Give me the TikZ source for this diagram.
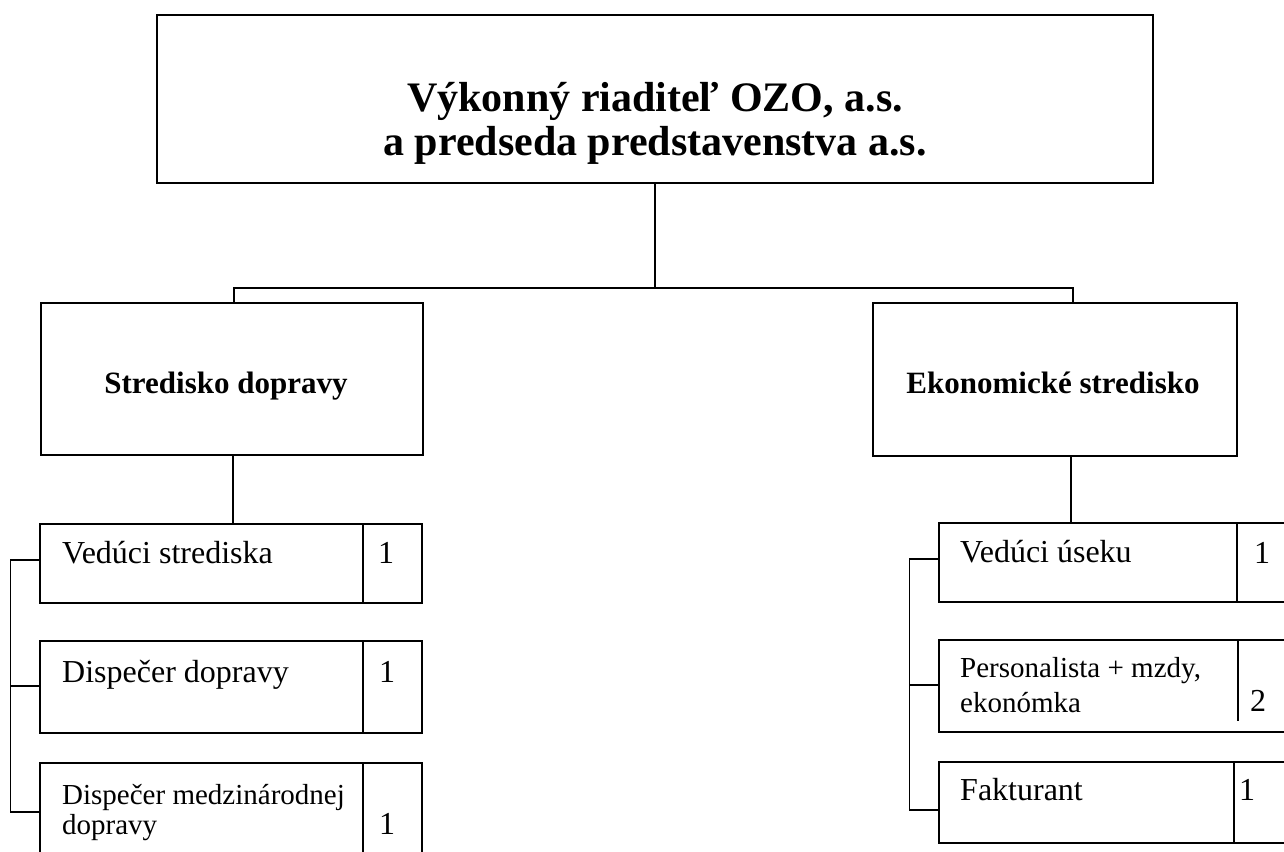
\documentclass[tikz,border=0pt]{standalone}
\usepackage{fontspec}
\setmainfont{Liberation Serif}

\tikzset{
  orgbox/.style={draw, line width=1.5pt, inner sep=0pt},
  link/.style={line width=1.5pt},
  headtext/.style={font=\fontsize{42}{44}\selectfont\bfseries, align=center, inner sep=0pt},
  unittext/.style={font=\fontsize{31}{35}\selectfont\bfseries, anchor=base, inner sep=0pt},
  jobtext/.style={font=\fontsize{32}{36}\selectfont, anchor=base west, inner sep=0pt},
  smalljob/.style={font=\fontsize{29}{33}\selectfont, anchor=base west, inner sep=0pt},
  count/.style={font=\fontsize{32}{36}\selectfont, anchor=base, inner sep=0pt}
}

\begin{document}
\begin{tikzpicture}[x=1pt, y=-1pt]
  \clip (0,0) rectangle (1284,851);

  % boxes
  \node[orgbox, minimum width=996pt, minimum height=168pt] (ceo) at (655,99) {};
  \node[orgbox, minimum width=382pt, minimum height=152pt] (dop) at (232,379) {};
  \node[orgbox, minimum width=364pt, minimum height=153pt] (eko) at (1055,379.5) {};

  \node[orgbox, minimum width=382pt, minimum height=79pt] (vs) at (231,563.5) {};
  \node[orgbox, minimum width=382pt, minimum height=92pt] (dd) at (231,687) {};
  \node[orgbox, minimum width=382pt, minimum height=117pt] (dm) at (231,821.5) {};

  \node[orgbox, minimum width=361pt, minimum height=79pt] (vu) at (1119.5,562.5) {};
  \node[orgbox, minimum width=361pt, minimum height=92pt] (pm) at (1119.5,686) {};
  \node[orgbox, minimum width=361pt, minimum height=81pt] (fa) at (1119.5,802.5) {};

  % count columns
  \foreach \b in {vs,dd,dm}
    \draw[link] ([xshift=-60pt]\b.north east) -- ([xshift=-60pt]\b.south east);
  \draw[link] ([xshift=-64pt]vu.north east) -- ([xshift=-64pt]vu.south east);
  \draw[link] ([xshift=-63pt]pm.north east) -- ++(0,82);
  \draw[link] ([xshift=-67pt]fa.north east) -- ([xshift=-67pt]fa.south east);

  % texts
  \node[headtext] (ceotext) at (655,123) {Výkonný riaditeľ OZO, a.s.\\a predseda predstavenstva a.s.};
  \node[unittext] (doptext) at (226,393) {Stredisko dopravy};
  \node[unittext] (ekotext) at (1053,393) {Ekonomické stredisko};

  \node[jobtext] (vstext) at (62,563) {Vedúci strediska};
  \node[jobtext] (ddtext) at (62,682) {Dispečer dopravy};
  \node[smalljob] (dmtext) at (62,804) {Dispečer medzinárodnej};
  \node[smalljob] (dmtext2) at (62,834) {dopravy};
  \node[count] (vsnum) at (386,563) {1};
  \node[count] (ddnum) at (387,682) {1};
  \node[count] (dmnum) at (387,834) {1};

  \node[jobtext] (vutext) at (960,562) {Vedúci úseku};
  \node[smalljob] (pmtext) at (960,677) {Personalista + mzdy,};
  \node[smalljob] (pmtext2) at (960,712) {ekonómka};
  \node[jobtext] (fatext) at (960,800) {Fakturant};
  \node[count] (vunum) at (1262,563) {1};
  \node[count] (pmnum) at (1258,711) {2};
  \node[count] (fanum) at (1247,800) {1};

  % connectors
  \draw[link] (ceo.south) -- ++(0,104) coordinate (fork);
  \draw[link] ([xshift=2pt]dop.north) |- (fork) -| ([xshift=18pt]eko.north);
  \draw[link] ([xshift=1pt]dop.south) -- ([xshift=2pt]vs.north);
  \draw[link] ([xshift=16pt]eko.south) -- ([xshift=-48.5pt]vu.north);

  \draw[link] ([yshift=3.5pt]vs.west) -- ++(-29,0) |- ([yshift=9.5pt]dm.west);
  \draw[link] ([yshift=1pt]dd.west) -- ++(-29,0);
  \draw[link] ([yshift=3.5pt]vu.west) -- ++(-29,0) |- ([yshift=-7.5pt]fa.west);
  \draw[link] ([yshift=1pt]pm.west) -- ++(-29,0);
\end{tikzpicture}
\end{document}
